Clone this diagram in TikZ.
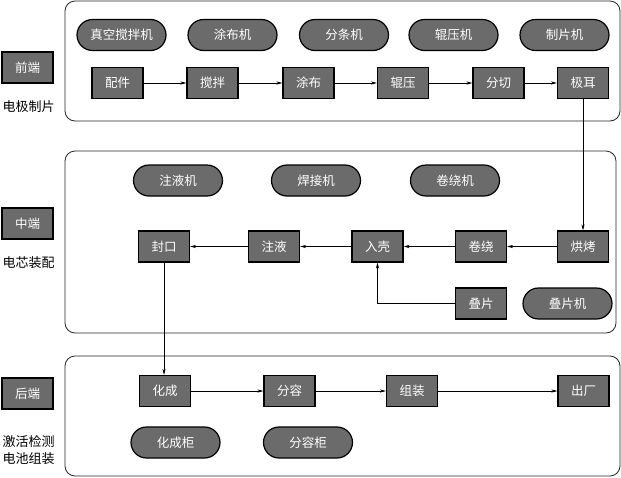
\documentclass[tikz,border=0pt]{standalone}
\usepackage{fontspec}
\setmainfont{Noto Sans CJK SC}
\usetikzlibrary{shapes.misc,arrows.meta}
\definecolor{boxgray}{HTML}{6B6B6B}
\tikzset{
  panel/.style={draw=black!85,line width=0.8pt,rounded corners=10pt},
  proc/.style={rectangle,draw=black,line width=1.3pt,fill=boxgray,text=white,
    minimum width=51pt,minimum height=31pt,inner sep=0pt,font=\fontsize{12.5}{14}\selectfont},
  machine/.style={rounded rectangle,draw=black,line width=1.2pt,fill=boxgray,text=white,
    minimum width=89pt,minimum height=31pt,inner sep=0pt,font=\fontsize{12.5}{14}\selectfont},
  lbl/.style={inner sep=0pt,font=\fontsize{13}{17}\selectfont,align=center},
  arr/.style={line width=0.6pt,-{Stealth[length=6pt,width=3.2pt]}}
}
\begin{document}
\begin{tikzpicture}[x=1pt,y=-1pt]
\useasboundingbox (0,0) rectangle (621,477);
% panels
\draw[panel] (65,1) rectangle (620,121);
\draw[panel] (65,151) rectangle (616,333);
\draw[panel] (65,356) rectangle (620,476);
% left labels
\node[proc] (qd) at (27.5,67.5) {前端};
\node[lbl] (qdl) at (28.5,107) {电极制片};
\node[proc] (zd) at (27.5,223.5) {中端};
\node[lbl] (zdl) at (28.5,263) {电芯装配};
\node[proc] (hd) at (27.5,393.5) {后端};
\node[lbl] (hdl) at (28.5,450.5) {激活检测\\电池组装};
% top machines
\node[machine] (m1) at (121.5,35) {真空搅拌机};
\node[machine] (m2) at (232.5,35) {涂布机};
\node[machine] (m3) at (344,35) {分条机};
\node[machine] (m4) at (453.5,35) {辊压机};
\node[machine] (m5) at (564.5,35) {制片机};
% top process
\node[proc] (pj) at (117.5,83) {配件};
\node[proc] (jb) at (212.5,83) {搅拌};
\node[proc] (tb) at (308.5,83) {涂布};
\node[proc] (gy) at (403,83) {辊压};
\node[proc] (fq) at (498.5,83) {分切};
\node[proc] (je) at (583,83) {极耳};
\draw[arr] (pj) -- (jb);
\draw[arr] (jb) -- (tb);
\draw[arr] (tb) -- (gy);
\draw[arr] (gy) -- (fq);
\draw[arr] (fq) -- (je);
% middle machines
\node[machine] (m6) at (178,180.5) {注液机};
\node[machine] (m7) at (316,180.5) {焊接机};
\node[machine] (m8) at (455,180.5) {卷绕机};
\node[machine] (m9) at (567.5,303.5) {叠片机};
% middle process
\node[proc] (fk) at (164,246.5) {封口};
\node[proc] (zy) at (274,246.5) {注液};
\node[proc] (rk) at (377.5,246.5) {入壳};
\node[proc] (jr) at (481,246.5) {卷绕};
\node[proc] (hk) at (583,246.5) {烘烤};
\node[proc] (dp) at (481,303.5) {叠片};
\draw[arr] (je.south) -- (hk.north);
\draw[arr] (hk) -- (jr);
\draw[arr] (jr) -- (rk);
\draw[arr] (rk) -- (zy);
\draw[arr] (zy) -- (fk);
\draw[arr] (dp.west) -| (rk.south);
% bottom process
\node[proc] (hc) at (165,391) {化成};
\node[proc] (fr) at (289.5,391) {分容};
\node[proc] (zz) at (412,391) {组装};
\node[proc] (cc) at (583.5,391) {出厂};
\node[machine] (m10) at (175.5,442.5) {化成柜};
\node[machine] (m11) at (308,442.5) {分容柜};
\draw[arr] (fk.south) -- (fk.south |- hc.north);
\draw[arr] (hc) -- (fr);
\draw[arr] (fr) -- (zz);
\draw[arr] (zz) -- (cc);
\end{tikzpicture}
\end{document}
